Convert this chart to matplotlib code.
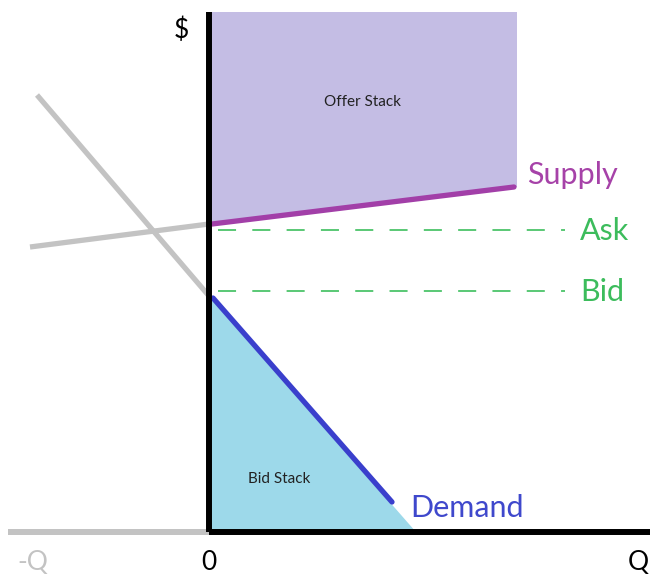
import matplotlib
matplotlib.use('Agg')
import matplotlib.pyplot as plt

# diagram coordinates: origin at the corner of the axes, units ~ pixels
offer_stack_x = [0, 308, 308, 0]
offer_stack_y = [520, 520, 345, 308]
supply_x = [3, 305]
supply_y = [308, 345]
supply_ext_x = [-179, 0]
supply_ext_y = [285, 308]

bid_stack_x = [0, 207, 0]
bid_stack_y = [236, 0, 0]
demand_x = [4, 183]
demand_y = [234, 30]
demand_ext_x = [-172, 0]
demand_ext_y = [437, 236]

ask_price = 302
bid_price = 241
quote_x = [9, 356]

font = ['Lato', 'DejaVu Sans']
fig = plt.figure(figsize=(6.5, 5.78), dpi=100)
ax = fig.add_axes([0, 0, 1, 1])
ax.set_xlim(-209, 441)
ax.set_ylim(-46, 532)
ax.axis('off')

ax.fill(offer_stack_x, offer_stack_y, color='#c4bde4', lw=0, zorder=1)
ax.fill(bid_stack_x, bid_stack_y, color='#9dd9ea', lw=0, zorder=1)

ax.plot(supply_ext_x, supply_ext_y, color='#c3c3c3', lw=3.8, solid_capstyle='butt', zorder=2)
ax.plot(demand_ext_x, demand_ext_y, color='#c3c3c3', lw=3.8, solid_capstyle='butt', zorder=2)
ax.plot(supply_x, supply_y, color='#a23fa8', lw=3.8, solid_capstyle='round', zorder=3)
ax.plot(demand_x, demand_y, color='#3a3fcc', lw=3.8, solid_capstyle='round', zorder=3)

for p in (ask_price, bid_price):
    ax.plot(quote_x, [p, p], color='#4cc46a', lw=1.3, dashes=(10, 9), zorder=2)

# axes
ax.plot([-201, 0], [0, 0], color='#c3c3c3', lw=4.3, solid_capstyle='butt', zorder=4)
ax.plot([0, 441], [0, 0], color='black', lw=4.3, solid_capstyle='butt', zorder=5)
ax.plot([0, 0], [0, 520], color='black', lw=4.3, solid_capstyle='butt', zorder=5)

ax.text(318, 357, 'Supply', color='#a642a8', fontsize=22, va='center', ha='left', family=font)
ax.text(371, 301, 'Ask', color='#3cbc5c', fontsize=22, va='center', ha='left', family=font)
ax.text(371, 240, 'Bid', color='#3cbc5c', fontsize=22, va='center', ha='left', family=font)
ax.text(201, 24, 'Demand', color='#3f48cc', fontsize=22, va='center', ha='left', family=font)
ax.text(154, 430, 'Offer Stack', color='#222222', fontsize=11, va='center', ha='center', family=font)
ax.text(70, 53, 'Bid Stack', color='#222222', fontsize=11, va='center', ha='center', family=font)
ax.text(-28, 502, '$', color='black', fontsize=19, va='center', ha='center', family=font)
ax.text(0, -30, '0', color='black', fontsize=19, va='center', ha='center', family=font)
ax.text(-176, -30, '-Q', color='#c3c3c3', fontsize=19, va='center', ha='center', family=font)
ax.text(419, -30, 'Q', color='black', fontsize=19, va='center', ha='left', family=font)

fig.savefig('out.png', dpi=100)
